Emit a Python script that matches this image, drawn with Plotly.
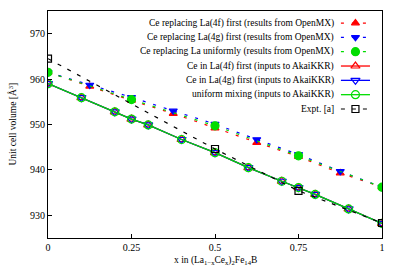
import plotly.graph_objects as go

# ---- data ----
x_omx = [0, 0.125, 0.25, 0.375, 0.5, 0.625, 0.75, 0.875, 1.0]
v_4f_omx = [961.5, 958.4, 955.3, 952.4, 949.2, 946.0, 942.9, 939.3, 936.2]
v_4g_omx = [961.5, 958.7, 956.0, 953.0, 950.1, 946.7, 943.4, 939.7, 936.2]
x_uni_omx = [0, 0.25, 0.5, 0.75, 1.0]
v_uni_omx = [961.5, 955.5, 949.7, 943.1, 936.2]

x_kkr = [0, 0.1, 0.2, 0.25, 0.3, 0.4, 0.5, 0.6, 0.7, 0.75, 0.8, 0.9, 1.0]
v_4f_kkr = [959.0, 955.9, 952.8, 951.2, 949.9, 946.7, 943.8, 940.5, 937.5, 936.1, 934.6, 931.4, 928.2]
v_4g_kkr = [959.0, 955.9, 952.8, 951.2, 949.9, 946.7, 943.8, 940.5, 937.5, 936.1, 934.6, 931.4, 928.2]
v_uni_kkr = [959.0, 955.9, 952.8, 951.2, 949.9, 946.7, 943.8, 940.5, 937.5, 936.1, 934.6, 931.4, 928.2]

x_expt = [0, 0.5, 0.75, 1.0]
v_expt = [964.5, 944.6, 935.4, 928.3]

names = [
    "Ce replacing La(4f) first (results from OpenMX)",
    "Ce replacing La(4g) first (results from OpenMX)",
    "Ce replacing La uniformly (results from OpenMX)",
    "Ce in La(4f) first (inputs to AkaiKKR)",
    "Ce in La(4g) first (inputs to AkaiKKR)",
    "uniform mixing (inputs to AkaiKKR)",
    "Expt. [a]",
]

RED, BLUE, GREEN, BLACK = "#ff0000", "#0000ff", "#00dd00", "#000000"
DASH = "3px,8px"
FONT = "Liberation Serif"

styles = [
    dict(color=RED, dash=DASH, symbol="triangle-up", size=7, width=1.2),
    dict(color=BLUE, dash=DASH, symbol="triangle-down", size=7, width=1.2),
    dict(color=GREEN, dash=DASH, symbol="circle", size=8, width=1.2),
    dict(color=RED, dash="solid", symbol="triangle-up-open", size=8, width=1.3),
    dict(color=BLUE, dash="solid", symbol="triangle-down-open", size=8, width=1.3),
    dict(color=GREEN, dash="solid", symbol="circle-open", size=8, width=1.3),
    dict(color=BLACK, dash="4px,7px", symbol="square-open", size=7, width=1.2),
]
series = [
    (x_omx, v_4f_omx), (x_omx, v_4g_omx), (x_uni_omx, v_uni_omx),
    (x_kkr, v_4f_kkr), (x_kkr, v_4g_kkr), (x_kkr, v_uni_kkr),
    (x_expt, v_expt),
]

fig = go.Figure()
for (xs, ys), st, nm in zip(series, styles, names):
    fig.add_trace(go.Scatter(
        x=xs, y=ys, mode="lines+markers", name=nm, showlegend=False,
        line=dict(color=st["color"], dash=st["dash"], width=st["width"]),
        marker=dict(symbol=st["symbol"], size=st["size"], color=st["color"],
                    line=dict(color=st["color"], width=1.2)),
    ))

# ---- gnuplot-style legend (text right-aligned, sample on the right) ----
row0 = 0.947
step = 14.33 / 227.0
for i, (st, nm) in enumerate(zip(styles, names)):
    yy = row0 - i * step
    fig.add_trace(go.Scatter(
        x=[0.877, 0.964], y=[yy, yy], xaxis="x2", yaxis="y2", mode="lines",
        line=dict(color=st["color"], dash=st["dash"], width=st["width"]),
        showlegend=False, hoverinfo="skip"))
    fig.add_trace(go.Scatter(
        x=[0.9205], y=[yy], xaxis="x2", yaxis="y2", mode="markers",
        marker=dict(symbol=st["symbol"], size=st["size"], color=st["color"],
                    line=dict(color=st["color"], width=1.2)),
        showlegend=False, hoverinfo="skip"))
    fig.add_annotation(x=0.862, y=yy, xref="paper", yref="paper", text=nm,
                       showarrow=False, xanchor="right", yanchor="middle",
                       font=dict(size=9.5, color="black", family=FONT))

fig.add_annotation(x=0.5, y=0, xref="paper", yref="paper",
                   text="x in (La<sub>1−x</sub>Ce<sub>x</sub>)<sub>2</sub>Fe<sub>14</sub>B",
                   showarrow=False, yanchor="middle", yshift=-22,
                   font=dict(size=9.5, color="black", family=FONT))
fig.add_annotation(x=0, y=0.5, xref="paper", yref="paper",
                   text="Unit cell volume [Å<sup>3</sup>]", textangle=-90,
                   showarrow=False, xanchor="center", xshift=-36,
                   font=dict(size=9.5, color="black", family=FONT))

fig.update_layout(
    width=400, height=279,
    margin=dict(l=48, r=18, t=11, b=41),
    paper_bgcolor="white", plot_bgcolor="white",
    font=dict(family=FONT, size=10, color="black"),
    xaxis=dict(range=[0, 1], tickvals=[0, 0.25, 0.5, 0.75, 1],
               ticktext=["0", "0.25", "0.5", "0.75", "1"],
               ticks="inside", ticklen=4, tickcolor="black", tickwidth=1,
               showline=True, linecolor="black", linewidth=1.2, mirror=True,
               showgrid=False, zeroline=False),
    yaxis=dict(range=[925, 975], tickvals=[930, 940, 950, 960, 970],
               ticks="inside", ticklen=4, tickcolor="black", tickwidth=1,
               showline=True, linecolor="black", linewidth=1.2, mirror=True,
               showgrid=False, zeroline=False),
    xaxis2=dict(range=[0, 1], overlaying="x", anchor="y2", visible=False),
    yaxis2=dict(range=[0, 1], overlaying="y", anchor="x2", visible=False),
)

fig.write_html("out.html", config={"displayModeBar": False},
               post_script="document.body.style.margin='0';document.body.style.overflow='hidden';")
